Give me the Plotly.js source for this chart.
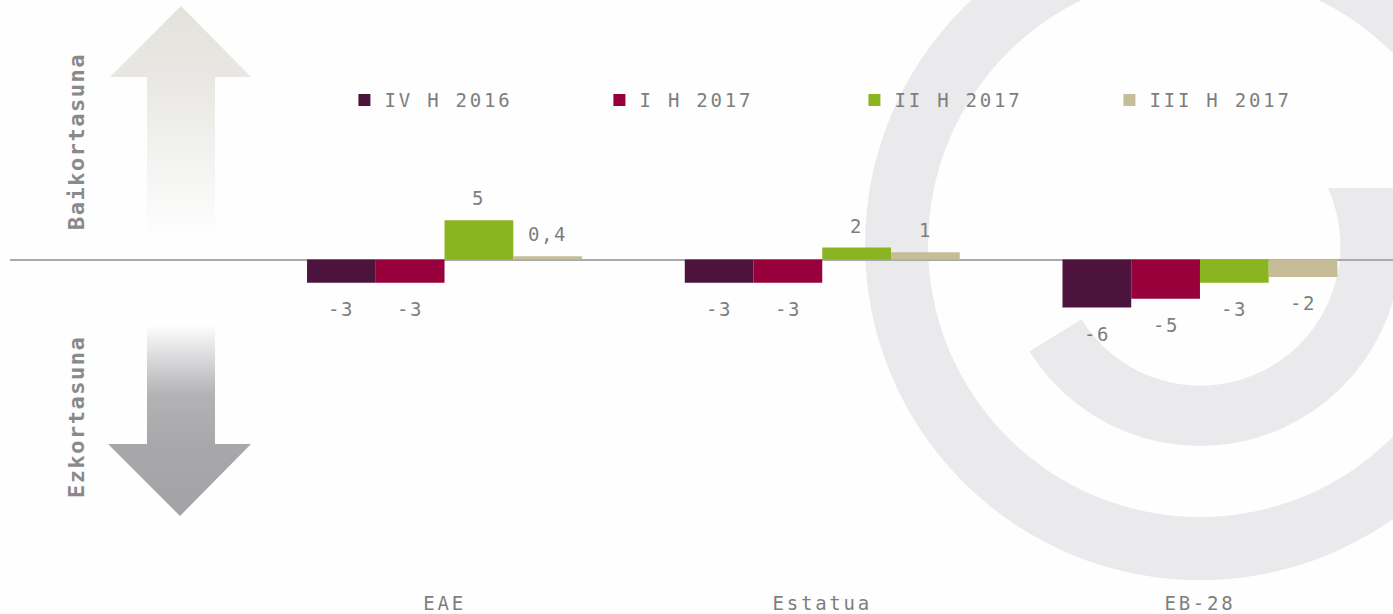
<!DOCTYPE html>
<html><head><meta charset="utf-8">
<script src="https://cdn.plot.ly/plotly-3.0.1.min.js"></script>
<style>
html,body{margin:0;padding:0;background:#fefefe;}
#wrap{position:relative;width:1393px;height:614px;overflow:hidden;}
#bg{position:absolute;left:0;top:0;}
#chart{position:absolute;left:0;top:0;width:1393px;height:614px;}
text.legendtext, .xtick text { letter-spacing: 2.8px; }
.annotation-text { letter-spacing: 1.5px; }
</style></head>
<body>
<div id="wrap">
<svg id="bg" width="1393" height="614" xmlns="http://www.w3.org/2000/svg">
<defs>
<linearGradient id="gUp" x1="0" y1="6" x2="0" y2="240" gradientUnits="userSpaceOnUse">
 <stop offset="0" stop-color="#e3e2dd"/>
 <stop offset="0.3" stop-color="#e8e7e3"/>
 <stop offset="1" stop-color="#fefefe"/>
</linearGradient>
<linearGradient id="gDown" x1="0" y1="325" x2="0" y2="516" gradientUnits="userSpaceOnUse">
 <stop offset="0" stop-color="#fefefe"/>
 <stop offset="0.183" stop-color="#d8d8da"/>
 <stop offset="0.366" stop-color="#b3b3b5"/>
 <stop offset="0.623" stop-color="#a8a8aa"/>
 <stop offset="1" stop-color="#a3a3a5"/>
</linearGradient>
</defs>
<rect width="1393" height="614" fill="#fefefe"/>
<path fill="#eaeaec" fill-rule="evenodd" d="M 865 245 a 335 335 0 1 0 670 0 a 335 335 0 1 0 -670 0 Z M 928 245 a 272 272 0 1 0 544 0 a 272 272 0 1 0 -544 0 Z"/>
<path fill="#eaeaec" d="M 1029.5 351.5 A 201 201 0 0 0 1392.7 188 L 1328 188 A 140 140 0 0 1 1081.3 319.2 Z"/>
<polygon fill="url(#gUp)" points="181,6 251,77 215,77 215,240 147,240 147,77 110,77"/>
<polygon fill="url(#gDown)" points="147,325 215,325 215,444 251,444 180,516 108,444 147,444"/>
</svg>
<div id="chart"></div>
</div>
<script>
// ---- data ----
var categories = ['EAE', 'Estatua', 'EB-28'];
var seriesNames = ['IV H 2016', 'I H 2017', 'II H 2017', 'III H 2017'];
var ivH2016 = [-2.9, -2.9, -6.0];
var iH2017 = [-2.9, -2.9, -4.9];
var iiH2017 = [4.9, 1.5, -2.9];
var iiiH2017 = [0.4, 0.9, -2.2];
var labelsIvH2016 = ['-3', '-3', '-6'];
var labelsIH2017 = ['-3', '-3', '-5'];
var labelsIiH2017 = ['5', '2', '-3'];
var labelsIiiH2017 = ['0,4', '1', '-2'];
var sideLabels = ['Baikortasuna', 'Ezkortasuna'];

var seriesValues = [ivH2016, iH2017, iiH2017, iiiH2017];
var seriesLabels = [labelsIvH2016, labelsIH2017, labelsIiH2017, labelsIiiH2017];
var colors = ['#4c133c', '#98003b', '#8ab520', '#c6bd98'];
var bargap = 0.272;

var traces = seriesNames.map(function (name, i) {
  return {
    type: 'bar', name: name, x: categories, y: seriesValues[i],
    marker: { color: colors[i], line: { width: 0 } },
    hoverinfo: 'skip'
  };
});

var annotations = [];
var barW = (1 - bargap) / seriesNames.length;
seriesValues.forEach(function (vals, s) {
  vals.forEach(function (v, c) {
    annotations.push({
      xref: 'x', yref: 'y',
      x: c + (s - (seriesNames.length - 1) / 2) * barW, y: v,
      text: seriesLabels[s][c], showarrow: false,
      yanchor: 'middle', yshift: v >= 0 ? 22 : -26,
      font: { family: 'DejaVu Sans Mono', size: 19, color: '#7e7e7e' }
    });
  });
});
annotations.push({
  xref: 'paper', yref: 'paper', x: 0.0477, y: 0.7877, text: sideLabels[0],
  textangle: -90, showarrow: false, xanchor: 'center', yanchor: 'middle',
  font: { family: 'DejaVu Sans Mono', size: 22, color: '#8a8a8a', weight: 'bold' }
});
annotations.push({
  xref: 'paper', yref: 'paper', x: 0.0477, y: 0.3035, text: sideLabels[1],
  textangle: -90, showarrow: false, xanchor: 'center', yanchor: 'middle',
  font: { family: 'DejaVu Sans Mono', size: 22, color: '#8a8a8a', weight: 'bold' }
});

var layout = {
  width: 1393, height: 614,
  margin: { l: 10, r: 0, t: 20, b: 24 },
  paper_bgcolor: 'rgba(0,0,0,0)', plot_bgcolor: 'rgba(0,0,0,0)',
  barmode: 'group', bargap: bargap, bargroupgap: 0,
  font: { family: 'DejaVu Sans Mono', color: '#7e7e7e', size: 19 },
  showlegend: true,
  xaxis: {
    type: 'category', range: [-1.1504, 2.511], showgrid: false, showline: false,
    zeroline: false, ticks: '', tickfont: { size: 19, color: '#7e7e7e' }, fixedrange: true
  },
  yaxis: {
    range: [-41.31, 29.94], showgrid: false, zeroline: true, zerolinecolor: '#a9a9a9',
    zerolinewidth: 2, showticklabels: false, ticks: '', showline: false, fixedrange: true
  },
  legend: {
    orientation: 'h', x: 0.2418, xanchor: 'left', y: 0.8596, yanchor: 'middle',
    entrywidth: 210, entrywidthmode: 'pixels',
    font: { size: 19, color: '#7e7e7e' }, bgcolor: 'rgba(0,0,0,0)'
  },
  annotations: annotations
};

Plotly.newPlot('chart', traces, layout, { displayModeBar: false, staticPlot: true });
</script>
</body></html>
